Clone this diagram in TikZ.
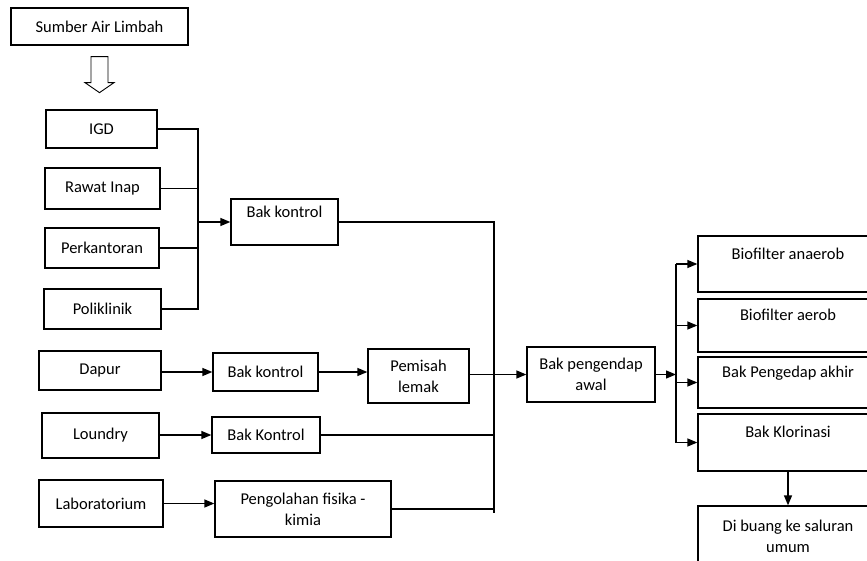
\documentclass[tikz,border=0pt]{standalone}
\usepackage{fontspec}
\setmainfont{Carlito}
\usepackage{tikz}
\usetikzlibrary{positioning,arrows.meta}

\begin{document}
\begin{tikzpicture}[>={Triangle[width=8pt,length=10pt]}, line width=1.3pt, box/.style={draw, rectangle, inner sep=2pt, align=center, font=\fontsize{16.5pt}{21pt}\selectfont}]
\useasboundingbox (0pt,0pt) rectangle (867pt,-561pt);
\clip (0pt,0pt) rectangle (867pt,-561pt);
\draw (99.5pt, -26.5pt)node[box, minimum width=177pt, minimum height=37pt](src){Sumber Air Limbah};
\draw (101.5pt, -129pt)node[box, minimum width=111pt, minimum height=38pt](igd){IGD};
\draw (102.5pt, -188.5pt)node[box, minimum width=115pt, minimum height=41pt](inap){Rawat Inap};
\draw (102pt, -248pt)node[box, minimum width=114pt, minimum height=40pt](kantor){Perkantoran};
\draw (102.5pt, -309pt)node[box, minimum width=117pt, minimum height=40pt](poli){Poliklinik};
\draw (284.5pt, -222pt)node[box, minimum width=107pt, minimum height=46pt](bk1){Bak kontrol\\~};
\draw (100pt, -370.5pt)node[box, minimum width=122pt, minimum height=39pt](dapur){Dapur};
\draw (265.5pt, -372pt)node[box, minimum width=105pt, minimum height=38pt](bk2){Bak kontrol};
\draw (418.5pt, -376pt)node[box, minimum width=101pt, minimum height=54pt](lemak){Pemisah\\lemak};
\draw (591pt, -374.5pt)node[box, minimum width=128pt, minimum height=55pt](awal){Bak pengendap\\awal};
\draw (100.5pt, -435.5pt)node[box, minimum width=117pt, minimum height=45pt](loundry){Loundry};
\draw (266pt, -435pt)node[box, minimum width=108pt, minimum height=36pt](bk3){Bak Kontrol};
\draw (101pt, -503.5pt)node[box, minimum width=124pt, minimum height=47pt](lab){Laboratorium};
\draw (303pt, -509pt)node[box, minimum width=176pt, minimum height=56pt](fisika){Pengolahan fisika -\\kimia};
\draw (788pt, -264pt)node[box, minimum width=180pt, minimum height=56pt](anaerob){Biofilter anaerob\\~};
\draw (788pt, -325.5pt)node[box, minimum width=180pt, minimum height=53pt](aerob){Biofilter aerob\\~};
\draw (788pt, -382.5pt)node[box, minimum width=180pt, minimum height=51pt](akhir){Bak Pengedap akhir\\~};
\draw (788pt, -442.5pt)node[box, minimum width=180pt, minimum height=57pt](klor){Bak Klorinasi\\~};
\draw (788pt, -536pt)node[box, minimum width=180pt, minimum height=60pt](buang){Di buang ke saluran\\umum};
\coordinate (jl) at (198pt, -222pt);
\coordinate (jm) at (494pt, -222pt);
\coordinate (jmb) at (494pt, -513pt);
\coordinate (jr) at (676pt, -374.5pt);
% hollow arrow under the source
\draw[line width=0.9pt] ([xshift=-8.5pt, yshift=-11pt]src.south) -- ++(0pt,-26pt) -- ++(-6pt,0pt) -- ++(14.5pt,-10pt) -- ++(14.5pt,10pt) -- ++(-6pt,0pt) -- ++(0pt,26pt) -- cycle;
% left group
\draw (igd) -- (igd -| jl) -- (poli -| jl) -- (poli);
\draw (inap) -- (inap -| jl);
\draw (kantor) -- (kantor -| jl);
\draw[->] (jl) -- (bk1);
% collector
\draw (bk1) -- (jm) -- (jmb);
\draw[->] (dapur.east |- bk2) -- (bk2);
\draw[->] (bk2) -- (bk2 -| lemak.west);
\draw[->] (lemak.east |- awal) -- (awal);
\draw[->] (loundry.east |- bk3) -- (bk3);
\draw (bk3) -- (bk3 -| jm);
\draw[->] (lab) -- (lab -| fisika.west);
\draw (fisika) -- (fisika -| jm);
% right group
\draw[->] (awal) -- (jr);
\draw (jr |- anaerob) -- (jr |- klor);
\draw[->] (jr |- anaerob) -- (anaerob);
\draw[->] (jr |- aerob) -- (aerob);
\draw[->] (jr |- akhir) -- (akhir);
\draw[->] (jr |- klor) -- (klor);
\draw[->] (klor) -- (buang);
\end{tikzpicture}
\end{document}
